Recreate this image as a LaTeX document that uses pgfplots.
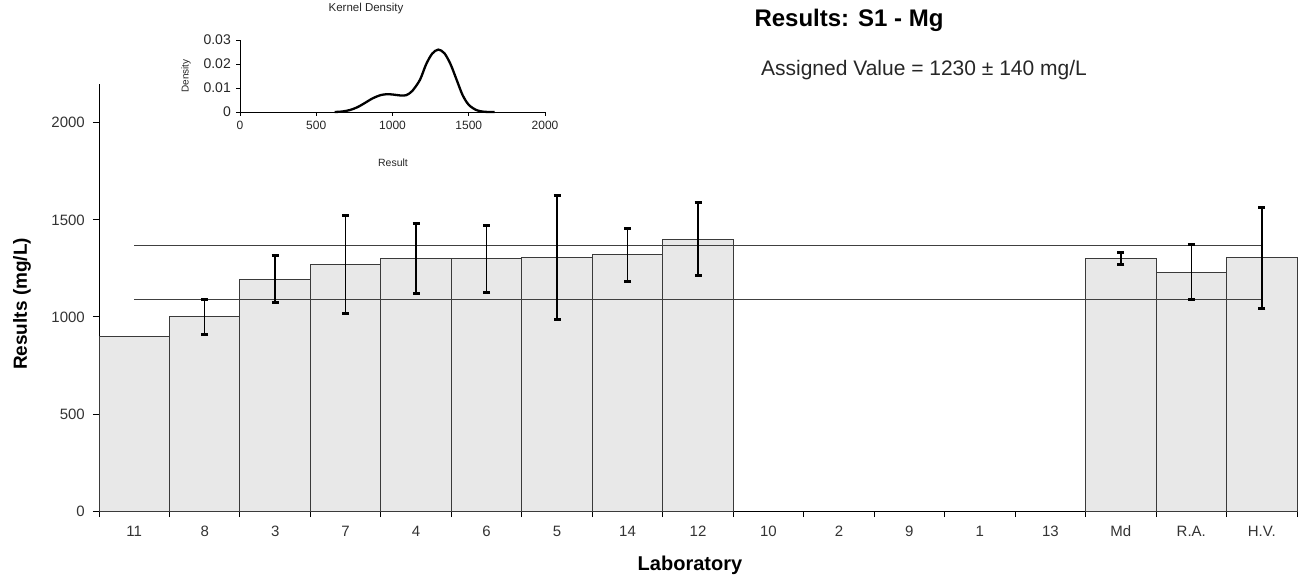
\documentclass[border=0pt]{standalone}
\usepackage{pgfplots}
\pgfplotsset{compat=1.18}
\usepackage{pgfplotstable}
\usepackage{fontspec}
\setmainfont{Liberation Sans}
\definecolor{barfill}{HTML}{E8E8E8}
\definecolor{baredge}{HTML}{3A3A3A}
\definecolor{refline}{HTML}{404040}

\pgfplotstableread{
x y
0 900
1 1000
2 1195
3 1270
4 1300
5 1300
6 1305
7 1320
8 1400
14 1300
15 1230
16 1305
}\bardata

\pgfplotstableread{
x y e
1 1000 92
2 1195 120
3 1270 250
4 1300 180
5 1300 172
6 1305 318
7 1320 138
8 1400 188
14 1300 30
15 1230 142
16 1305 260
}\errdata

\pgfplotstableread{
x y
620 0
670 0.0002
720 0.0008
770 0.0020
820 0.0038
870 0.0057
920 0.0070
960 0.0074
1000 0.0073
1050 0.0069
1090 0.0070
1130 0.0088
1180 0.0134
1220 0.0198
1260 0.0243
1300 0.0260
1340 0.0245
1380 0.0200
1420 0.0135
1460 0.0070
1500 0.0030
1550 0.0008
1600 0.0001
1670 0
}\densdata

\begin{document}
\begin{tikzpicture}[x=1pt,y=1pt]
\path[use as bounding box] (0,0) rectangle (1305,-580);

\begin{axis}[
  at={(99pt,-511pt)}, anchor=south west,
  scale only axis, width=1198pt, height=427pt,
  xmin=-0.5, xmax=16.5, ymin=0, ymax=2200,
  axis x line=bottom, axis y line=left,
  axis line style={-, black, line width=0.9pt},
  tick align=outside, major tick length=6pt,
  tick style={black, line width=0.9pt},
  ytick={0,500,1000,1500,2000},
  xtick={-0.5,0.5,...,16.5}, xticklabels={},
  extra x ticks={0,1,...,16},
  extra x tick labels={11,8,3,7,4,6,5,14,12,10,2,9,1,13,Md,R.A.,H.V.},
  extra x tick style={tick style={draw=none}},
  /pgf/number format/assume math mode=true,
  /pgf/number format/1000 sep={},
  tick label style={font=\fontsize{15}{18}\selectfont, text=black!80},
  yticklabel style={inner sep=0pt, xshift=-8pt},
  xticklabel style={inner sep=0pt, yshift=-8pt, text height=11pt, text depth=0pt},
  xlabel={Laboratory},
  ylabel={Results (mg/L)},
  xlabel style={font=\fontsize{20}{24}\selectfont\bfseries, at={(axis description cs:0.4933,-0.1398)}, anchor=base},
  ylabel style={font=\fontsize{19}{23}\selectfont\bfseries, at={(axis description cs:-0.0601,0.485)}, anchor=base},
  clip=false,
]
\addplot[ybar, bar width=1, bar shift=0, fill=barfill, draw=baredge, line width=0.9pt] table[x=x,y=y] {\bardata};
\addplot[no marks, color=refline, line width=1.1pt] coordinates {(0,1370) (16,1370)};
\addplot[no marks, color=refline, line width=1.1pt] coordinates {(0,1090) (16,1090)};
\addplot[draw=none, mark=none,
  error bars/.cd, y dir=both, y explicit,
  error bar style={line width=1.5pt, black},
  error mark options={black, line width=3pt, mark size=3.5pt, rotate=90}]
  table[x=x,y=y,y error=e] {\errdata};
\end{axis}

\begin{axis}[
  at={(240pt,-112pt)}, anchor=south west,
  scale only axis, width=305pt, height=72pt,
  xmin=0, xmax=2000, ymin=0, ymax=0.03,
  axis x line=bottom, axis y line=left,
  axis line style={-, black, line width=0.9pt},
  tick align=outside, major tick length=4pt,
  tick style={black, line width=0.9pt},
  xtick={0,500,1000,1500,2000},
  ytick={0,0.01,0.02,0.03},
  yticklabels={0,0.01,0.02,0.03},
  scaled y ticks=false,
  /pgf/number format/assume math mode=true,
  /pgf/number format/1000 sep={},
  tick label style={font=\fontsize{14}{16}\selectfont, text=black!85},
  yticklabel style={inner sep=0pt, xshift=-5pt},
  xticklabel style={inner sep=0pt, yshift=-5pt, font=\fontsize{12}{14}\selectfont},
  clip=false,
]
\addplot[smooth, black, line width=2.3pt, no marks] table[x=x,y=y] {\densdata};
\end{axis}

\node[font=\fontsize{11.5}{13}\selectfont, text=black!85] at (366,-9) {Kernel Density};
\node[font=\fontsize{10.5}{12}\selectfont, text=black!85] at (393,-163) {Result};
\node[font=\fontsize{10}{11}\selectfont, text=black!85, rotate=90] at (186,-76) {Density};

\node[font=\fontsize{24}{28}\selectfont\bfseries, anchor=base] at (849,-26.7) {Results: S1 - Mg};
\node[font=\fontsize{21}{25}\selectfont, anchor=base, text=black!85] at (924,-76) {Assigned Value = 1230 ± 140 mg/L};
\end{tikzpicture}
\end{document}
